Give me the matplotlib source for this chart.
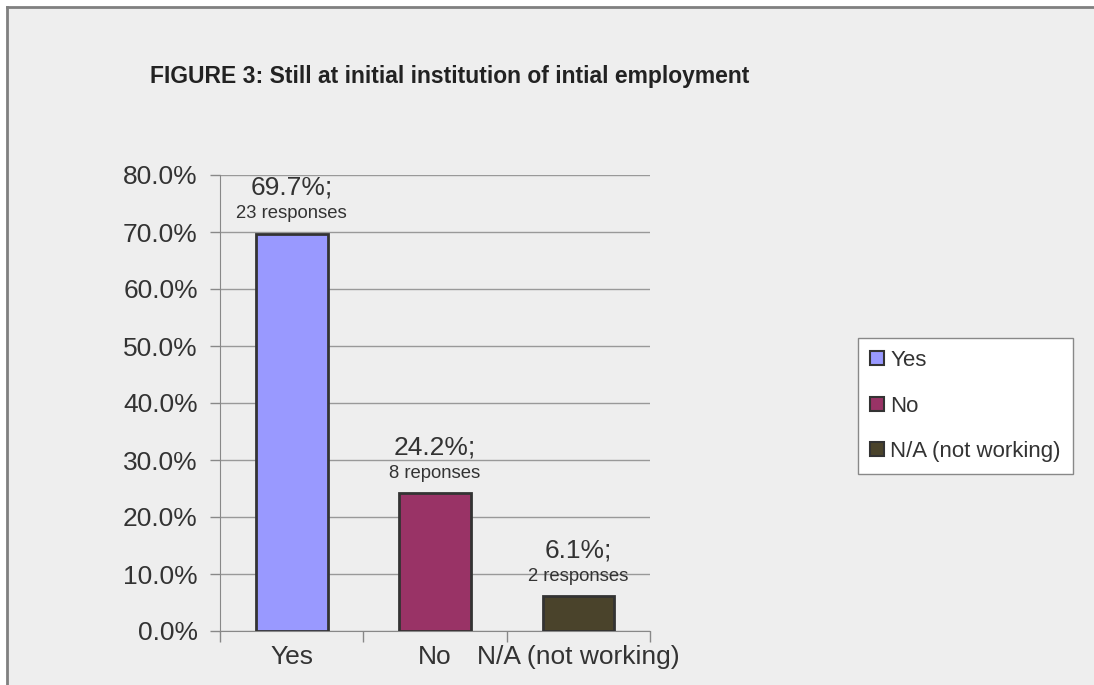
import matplotlib.pyplot as plt
from matplotlib.patches import Rectangle, Patch
from matplotlib.lines import Line2D
from matplotlib.ticker import FixedLocator

plt.rcParams['font.family'] = ['Liberation Sans', 'DejaVu Sans']

categories = ['Yes', 'No', 'N/A (not working)']
shares = [69.7, 24.2, 6.1]
counts = ['23 responses', '8 reponses', '2 responses']
colors = ['#9999ff', '#993366', '#4a432b']
yticks = [0, 10, 20, 30, 40, 50, 60, 70, 80]

W, H = 1094, 685
fig = plt.figure(figsize=(W / 100, H / 100), dpi=100, facecolor='white')

# grey panel with a darker frame on the top and left edges
fig.patches.append(Rectangle((8 / W, 0), 1, 1 - 8 / H, transform=fig.transFigure,
                             facecolor='#eeeeee', edgecolor='none', zorder=-10))
fig.lines.append(Line2D([7 / W, 7 / W], [0, 1 - 7 / H], transform=fig.transFigure,
                        color='#808080', lw=2, zorder=-5))
fig.lines.append(Line2D([7 / W, 1], [1 - 7 / H, 1 - 7 / H], transform=fig.transFigure,
                        color='#808080', lw=2, zorder=-5))

fig.text(150 / W, 1 - 76 / H, 'FIGURE 3: Still at initial institution of intial employment',
         fontsize=16.5, color='#222222', va='center', ha='left', fontweight='bold')

ax = fig.add_axes([220 / W, 1 - 631 / H, 430 / W, 456 / H])
ax.set_facecolor('none')
x = range(len(categories))
bars = ax.bar(x, shares, width=0.5, color=colors, edgecolor='#333333', linewidth=2,
              zorder=3)
ax.set_xlim(-0.5, 2.5)
ax.set_ylim(0, 80)
ax.set_yticks(yticks)
ax.set_yticklabels([f'{v:.1f}%' for v in yticks])
ax.yaxis.grid(True, color='#999999', lw=1)
ax.set_axisbelow(True)

ax.set_xticks(list(x))
ax.set_xticklabels(categories)
ax.xaxis.set_minor_locator(FixedLocator([-0.5, 0.5, 1.5, 2.5]))
ax.tick_params(axis='x', which='major', length=0, pad=10, labelsize=19, colors='#333333')
ax.tick_params(axis='x', which='minor', length=8, width=1, color='#888888', direction='out')
ax.tick_params(axis='y', length=7, width=1, color='#888888', labelsize=19,
               labelcolor='#333333', pad=9)
for s in ['top', 'right']:
    ax.spines[s].set_visible(False)
ax.spines['left'].set_color('#888888')
ax.spines['bottom'].set_color('#888888')

for xi, v, c in zip(x, shares, counts):
    ax.annotate(f'{v:.1f}%;', (xi, v), xytext=(0, 46), textcoords='offset pixels',
                ha='center', va='center', fontsize=19, color='#333333')
    ax.annotate(c, (xi, v), xytext=(0, 20), textcoords='offset pixels',
                ha='center', va='center', fontsize=13.3, color='#333333')

handles = [Patch(facecolor=c, edgecolor='#333333', linewidth=1.5) for c in colors]
leg = fig.legend(handles, categories, loc='upper left',
                 bbox_to_anchor=(858 / W, 1 - 338 / H), frameon=True, fancybox=False,
                 framealpha=1, fontsize=16, handlelength=0.6, handleheight=0.6,
                 handletextpad=0.3, labelspacing=1.1, borderpad=0.55, borderaxespad=0,
                 labelcolor='#333333')
leg.get_frame().set_edgecolor('#888888')
leg.get_frame().set_linewidth(1)
leg.get_frame().set_facecolor('white')

fig.savefig('out.png', dpi=100, facecolor='white')
